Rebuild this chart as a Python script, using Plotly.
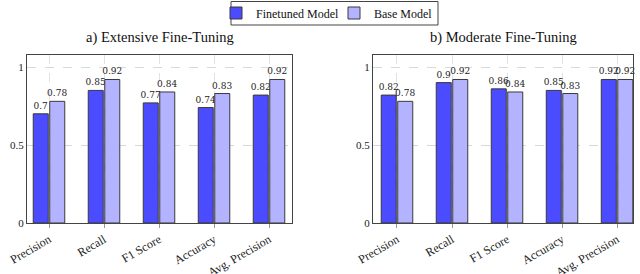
import plotly.graph_objects as go

categories = ["Precision", "Recall", "F1 Score", "Accuracy", "Avg. Precision"]
ext_finetuned = [0.70, 0.85, 0.77, 0.74, 0.82]
ext_base = [0.78, 0.92, 0.84, 0.83, 0.92]
mod_finetuned = [0.82, 0.90, 0.86, 0.85, 0.92]
mod_base = [0.78, 0.92, 0.84, 0.83, 0.92]
titles = ["a) Extensive Fine-Tuning", "b) Moderate Fine-Tuning"]
series_names = ["Finetuned Model", "Base Model"]

W, H = 640, 274
SERIF = "Times New Roman"
BLUE = "#4b4bff"
LIGHT = "#b3b3ff"
EDGE = "#3a3a3a"

def px_x(p):
    return p / W

def px_y(p):
    return 1 - p / H

def fmt(v):
    s = f"{v:.2f}".rstrip("0").rstrip(".")
    return s

fig = go.Figure()

panels = [
    (ext_finetuned, ext_base, "x", "y", True),
    (mod_finetuned, mod_base, "x2", "y2", False),
]
for fin, base, xa, ya, show in panels:
    for k, (vals, name, col) in enumerate([(fin, series_names[0], BLUE), (base, series_names[1], LIGHT)]):
        fig.add_trace(go.Bar(
            x=list(range(len(categories))), y=vals, name=name,
            xaxis=xa, yaxis=ya, showlegend=show,
            legend="legend" if k == 0 else "legend2",
            marker=dict(color=col, line=dict(color=EDGE, width=1)),
            text=[fmt(v) for v in vals], textposition="outside",
            constraintext="none", cliponaxis=False,
            textfont=dict(family="DejaVu Serif", size=9, color="#222"),
            offsetgroup=name,
        ))

axis_common = dict(
    showline=True, linecolor="#444", linewidth=1, mirror=True,
    zeroline=False, automargin=False,
)
xdoms = [(27, 292), (373, 633)]
xranges = [(-0.4, 4.418), (-0.436, 4.29)]
for i, (dom, rng) in enumerate(zip(xdoms, xranges)):
    xkey = "xaxis" if i == 0 else "xaxis2"
    ykey = "yaxis" if i == 0 else "yaxis2"
    fig.update_layout({
        xkey: dict(
            domain=[px_x(dom[0]), px_x(dom[1])], range=list(rng),
            anchor="y" if i == 0 else "y2",
            tickmode="array", tickvals=list(range(len(categories))),
            ticktext=categories, tickangle=-30,
            ticks="outside", ticklen=4, tickcolor="#999",
            showgrid=True, gridcolor="#e2e2e2", griddash="dash", gridwidth=1,
            tickfont=dict(family=SERIF, size=12, color="#222"),
            **axis_common,
        ),
        ykey: dict(
            domain=[px_y(223), px_y(55)], range=[0, 1.077],
            anchor="x" if i == 0 else "x2",
            tickmode="array", tickvals=[0, 0.5, 1], ticktext=["0", "0.5", "1"],
            ticks="", showgrid=True, gridcolor="#d8d8d8", griddash="dash",
            tickfont=dict(family=SERIF, size=11, color="#222"),
            **axis_common,
        ),
    })

annotations = []
for t, dom in zip(titles, xdoms):
    annotations.append(dict(
        text=t, x=px_x((dom[0] + dom[1]) / 2), y=px_y(38),
        xref="paper", yref="paper", xanchor="center", yanchor="middle",
        showarrow=False, font=dict(family=SERIF, size=14.5, color="#111"),
    ))

legend_common = dict(
    orientation="h", yanchor="middle", y=px_y(13), xanchor="left",
    bgcolor="rgba(0,0,0,0)", borderwidth=0,
    font=dict(family=SERIF, size=12, color="#111"),
)

fig.update_layout(
    width=W, height=H,
    font=dict(family=SERIF),
    margin=dict(l=0, r=0, t=0, b=0, autoexpand=False),
    paper_bgcolor="white", plot_bgcolor="white",
    barmode="group", bargap=0.4, bargroupgap=0.09,
    annotations=annotations,
    legend=dict(x=px_x(216), **legend_common),
    legend2=dict(x=px_x(334), **legend_common),
    shapes=[dict(
        type="rect", xref="paper", yref="paper",
        x0=px_x(231), x1=px_x(438), y0=px_y(25), y1=px_y(1.5),
        line=dict(color="#444", width=1), fillcolor="rgba(0,0,0,0)", layer="below",
    )],
    showlegend=True,
)

fig.write_html(
    "out.html",
    config={"displayModeBar": False},
    post_script="document.body.style.margin='0';document.body.style.padding='0';",
)
